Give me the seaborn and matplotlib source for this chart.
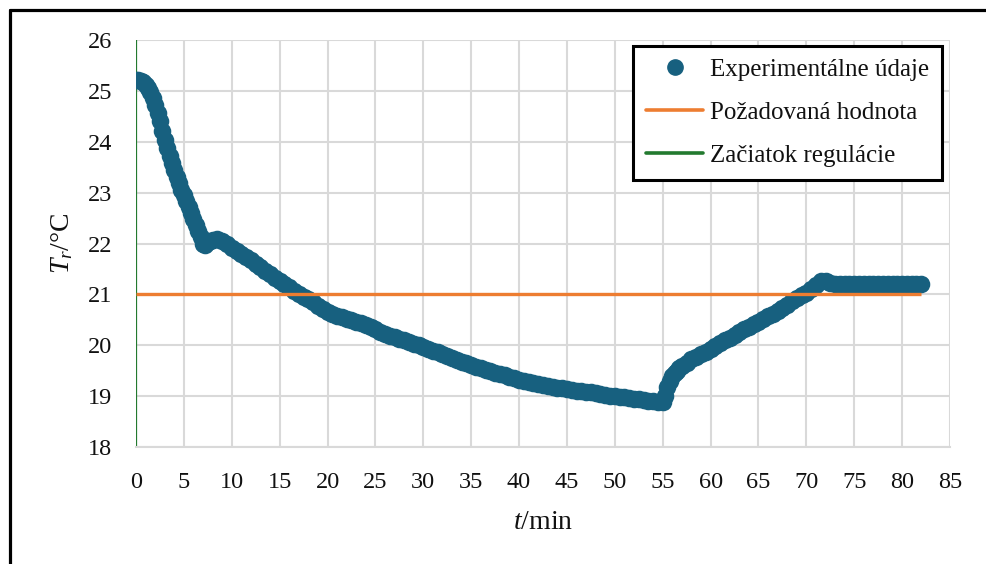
import numpy as np
import pandas as pd
import matplotlib
matplotlib.use("Agg")
import matplotlib.pyplot as plt
import seaborn as sns
from matplotlib.lines import Line2D

# ---- data ----
time_min = [
    0.0, 0.25, 0.5, 0.75, 1.0, 1.25, 1.5, 1.75, 2.0, 2.25, 2.5, 2.75, 3.0, 3.25, 3.5,
    3.75, 4.0, 4.25, 4.5, 4.75, 5.0, 5.25, 5.5, 5.75, 6.0, 6.25, 6.5, 6.75, 7.0, 7.25,
    7.5, 7.75, 8.0, 8.5, 9.0, 9.5, 10.0, 10.5, 11.0, 11.5, 12.0, 12.5, 13.0, 13.5,
    14.0, 14.5, 15.0, 15.5, 16.0, 16.5, 17.0, 17.5, 18.0, 18.5, 19.0, 19.5, 20.0, 20.5,
    21.0, 21.5, 22.0, 22.5, 23.0, 23.5, 24.0, 24.5, 25.0, 25.5, 26.0, 26.5, 27.0, 27.5,
    28.0, 28.5, 29.0, 29.5, 30.0, 30.5, 31.0, 31.5, 32.0, 32.5, 33.0, 33.5, 34.0,
    34.5, 35.0, 35.5, 36.0, 36.5, 37.0, 37.5, 38.0, 38.5, 39.0, 39.5, 40.0, 40.5,
    41.0, 41.5, 42.0, 42.5, 43.0, 43.5, 44.0, 44.5, 45.0, 45.5, 46.0, 46.5, 47.0,
    47.5, 48.0, 48.5, 49.0, 49.5, 50.0, 50.5, 51.0, 51.5, 52.0, 52.5, 53.0, 53.5,
    54.0, 54.5, 55.0, 55.25, 55.5, 55.75, 56.0, 56.25, 56.5, 56.75, 57.0, 57.5, 58.0,
    58.5, 59.0, 59.5, 60.0, 60.5, 61.0, 61.5, 62.0, 62.5, 63.0, 63.5, 64.0, 64.5, 65.0,
    65.5, 66.0, 66.5, 67.0, 67.5, 68.0, 68.5, 69.0, 69.5, 70.0, 70.5, 71.0, 71.5, 72.0,
    72.5, 73.0, 73.5, 74.0, 74.5, 75.0, 75.5, 76.0, 76.5, 77.0, 77.5, 78.0, 78.5,
    79.0, 79.5, 80.0, 80.5, 81.0, 81.5, 82.0,
]
temp_c = [
    25.22, 25.22, 25.20, 25.17, 25.12, 25.05, 24.97, 24.86, 24.72, 24.57, 24.40, 24.21,
    24.03, 23.87, 23.72, 23.58, 23.45, 23.31, 23.18, 23.06, 22.95, 22.83, 22.72, 22.60,
    22.48, 22.36, 22.24, 22.12, 22.00, 21.98, 22.02, 22.05, 22.07, 22.08, 22.05, 21.99,
    21.92, 21.85, 21.79, 21.73, 21.67, 21.60, 21.53, 21.46, 21.40, 21.33, 21.27, 21.21,
    21.14, 21.07, 21.01, 20.95, 20.90, 20.85, 20.78, 20.72, 20.66, 20.62, 20.58, 20.55,
    20.52, 20.49, 20.46, 20.43, 20.40, 20.36, 20.31, 20.27, 20.23, 20.19, 20.16, 20.13,
    20.10, 20.07, 20.03, 20.00, 19.96, 19.92, 19.89, 19.86, 19.82, 19.78, 19.74, 19.71,
    19.68, 19.65, 19.61, 19.58, 19.55, 19.52, 19.49, 19.46, 19.43, 19.41, 19.38, 19.35,
    19.32, 19.30, 19.28, 19.26, 19.24, 19.22, 19.20, 19.18, 19.16, 19.15, 19.14, 19.12,
    19.11, 19.10, 19.09, 19.08, 19.06, 19.04, 19.03, 19.01, 19.00, 18.99, 18.98, 18.96,
    18.95, 18.94, 18.93, 18.91, 18.90, 18.88, 18.88, 19.00, 19.17, 19.30, 19.40, 19.46,
    19.50, 19.55, 19.59, 19.66, 19.72, 19.77, 19.82, 19.87, 19.92, 19.98, 20.04, 20.10,
    20.15, 20.20, 20.26, 20.31, 20.36, 20.41, 20.46, 20.52, 20.57, 20.62, 20.68, 20.74,
    20.80, 20.86, 20.92, 20.98, 21.03, 21.10, 21.18, 21.27, 21.27, 21.22, 21.20, 21.20,
    21.20, 21.20, 21.20, 21.20, 21.20, 21.20, 21.20, 21.20, 21.20, 21.20, 21.20, 21.20,
    21.20, 21.20, 21.20, 21.20, 21.20,
]
setpoint = 21.0
control_start = 0.0
x_ticks = [0, 5, 10, 15, 20, 25, 30, 35, 40, 45, 50, 55, 60, 65, 70, 75, 80, 85]
y_ticks = [18, 19, 20, 21, 22, 23, 24, 25, 26]
labels = ["Experimentálne údaje", "Požadovaná hodnota", "Začiatok regulácie"]

df = pd.DataFrame({"t": time_min, "T": temp_c})

# ---- style ----
sns.set_theme(style="white")
SERIF = "Liberation Serif"
plt.rcParams["font.family"] = [SERIF, "DejaVu Serif"]
plt.rcParams["mathtext.fontset"] = "custom"
plt.rcParams["mathtext.rm"] = SERIF
plt.rcParams["mathtext.it"] = SERIF + ":italic"

BLUE = "#17607F"
ORANGE = "#ED7D31"
GREEN = "#237A2F"
GRID = "#D9D9D9"
TXT = "#111111"

fig = plt.figure(figsize=(9.87, 5.64), dpi=100)
ax = fig.add_axes([136 / 987, 1 - 447 / 564, (950 - 136) / 987, (447 - 40) / 564])

ax.set_xlim(0, 85)
ax.set_ylim(18, 26)
ax.set_xticks(x_ticks)
ax.set_yticks(y_ticks)
ax.grid(True, color=GRID, linewidth=1.5, zorder=0)
ax.set_axisbelow(True)
for s in ["top", "right", "left"]:
    ax.spines[s].set_visible(False)
ax.spines["bottom"].set_color(GRID)
ax.spines["bottom"].set_linewidth(1.5)
ax.tick_params(axis="both", length=0, labelsize=17.5, colors=TXT)
ax.tick_params(axis="y", pad=17)
ax.tick_params(axis="x", pad=18)

# data points
sns.scatterplot(data=df, x="t", y="T", ax=ax, color=BLUE, s=160, edgecolor=BLUE,
                linewidth=0, zorder=3, legend=False)
# setpoint line
ax.hlines(setpoint, time_min[0], time_min[-1], color=ORANGE, linewidth=2.4, zorder=4)
# start of control
ax.axvline(control_start, color=GREEN, linewidth=1.6, zorder=2)

ax.set_xlabel("$t$/min", fontsize=20, color=TXT, labelpad=12.5)
ax.set_ylabel("$T_r$/°C", fontsize=20, color=TXT, labelpad=9)

handles = [
    Line2D([], [], linestyle="none", marker="o", markersize=11, color=BLUE),
    Line2D([], [], color=ORANGE, linewidth=2.6),
    Line2D([], [], color=GREEN, linewidth=2.6),
]
leg = ax.legend(handles, labels, loc="upper right",
                bbox_to_anchor=(942 / 987, 1 - 46 / 564), bbox_transform=fig.transFigure,
                fontsize=18, frameon=True, fancybox=False, framealpha=1,
                edgecolor="black", borderpad=0.5, labelspacing=0.82,
                handlelength=2.3, handletextpad=0.28, borderaxespad=0)
leg.get_frame().set_linewidth(2.2)
for t in leg.get_texts():
    t.set_color(TXT)

# outer border (top and left visible)
fig.add_artist(Line2D([9.5 / 987, 9.5 / 987], [0, 1 - 9.5 / 564], transform=fig.transFigure,
                      color="black", linewidth=2.3))
fig.add_artist(Line2D([9.5 / 987, 1], [1 - 9.5 / 564, 1 - 9.5 / 564], transform=fig.transFigure,
                      color="black", linewidth=2.3))

fig.savefig("out.png", dpi=100)
